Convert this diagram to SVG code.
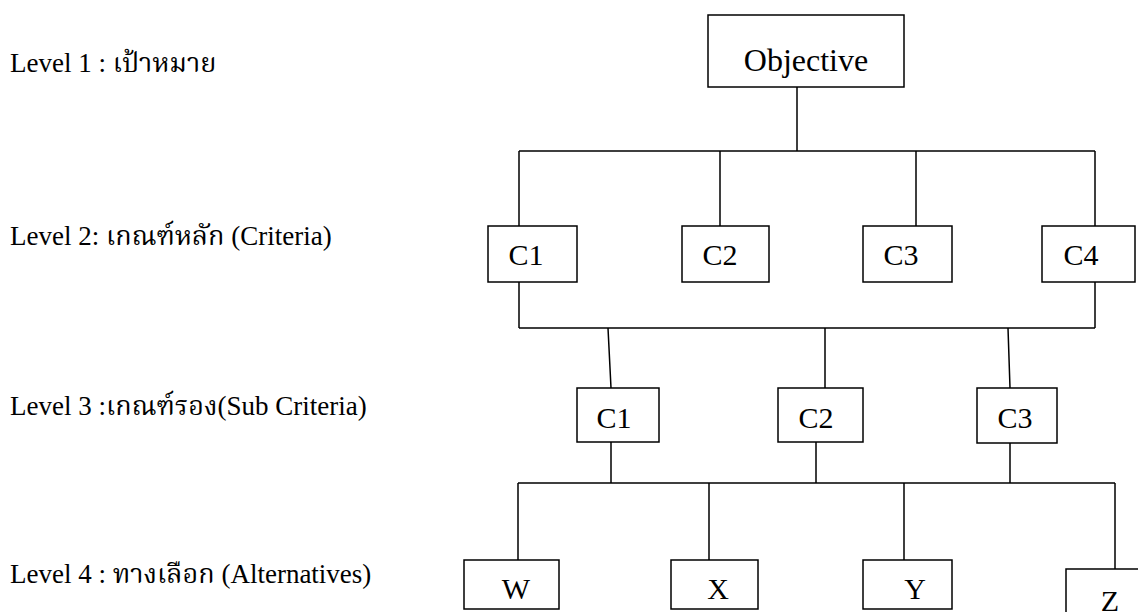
<svg xmlns="http://www.w3.org/2000/svg" width="1138" height="612" viewBox="0 0 1138 612">
<style>
.box{fill:#fff;stroke:#000;stroke-width:1.5}
.lbl{font-family:'Liberation Serif','Noto Serif Thai','Noto Sans Thai',serif;font-size:27px;fill:#000}
.nt{font-family:'Liberation Serif',serif;font-size:30px;fill:#000;text-anchor:middle}
.ln{stroke:#000;stroke-width:1.5;fill:none}
</style>
<rect width="1138" height="612" fill="#fff"/>
<g id="labels">
<text class="lbl" x="10" y="72">Level 1 : เป้าหมาย</text>
<text class="lbl" x="10" y="245">Level 2: เกณฑ์หลัก (Criteria)</text>
<text class="lbl" x="10" y="415">Level 3 :เกณฑ์รอง(Sub Criteria)</text>
<text class="lbl" x="10" y="583">Level 4 : ทางเลือก (Alternatives)</text>
</g>
<g id="connectors">
<path class="ln" d="M797,87 V151 M519,151 H1095 M519,151 V226 M720,151 V226 M916,151 V226 M1095,151 V226"/>
<path class="ln" d="M519,282 V328 M1095,282 V328 M519,328 H1095 M608,328 L611,388 M825,328 V388 M1008,328 L1010,388"/>
<path class="ln" d="M611,442 V483 M816,442 V483 M1010,443 V483 M518,483 H1115 M518,483 V560 M709,483 V560 M904,483 V560 M1115,483 V569"/>
</g>
<g id="objective"><rect class="box" x="708" y="15" width="196" height="72"/><text class="nt" x="806" y="71" style="font-size:32px">Objective</text></g>
<g id="c1"><rect class="box" x="488" y="226" width="89" height="56"/><text class="nt" x="526" y="265">C1</text></g>
<g id="c2"><rect class="box" x="682" y="226" width="87" height="56"/><text class="nt" x="720" y="265">C2</text></g>
<g id="c3"><rect class="box" x="863" y="226" width="89" height="56"/><text class="nt" x="901" y="265">C3</text></g>
<g id="c4"><rect class="box" x="1042" y="226" width="93" height="56"/><text class="nt" x="1081" y="265">C4</text></g>
<g id="sc1"><rect class="box" x="577" y="388" width="82" height="54"/><text class="nt" x="614" y="428">C1</text></g>
<g id="sc2"><rect class="box" x="778" y="388" width="85" height="54"/><text class="nt" x="816" y="428">C2</text></g>
<g id="sc3"><rect class="box" x="977" y="388" width="80" height="55"/><text class="nt" x="1015" y="428">C3</text></g>
<g id="w"><rect class="box" x="464" y="560" width="95" height="49"/><text class="nt" x="516" y="599">W</text></g>
<g id="x"><rect class="box" x="671" y="560" width="87" height="49"/><text class="nt" x="718" y="599">X</text></g>
<g id="y"><rect class="box" x="863" y="560" width="89" height="49"/><text class="nt" x="915" y="599">Y</text></g>
<g id="z"><rect class="box" x="1066" y="569" width="90" height="60"/><text class="nt" x="1110" y="611">Z</text></g>
</svg>
